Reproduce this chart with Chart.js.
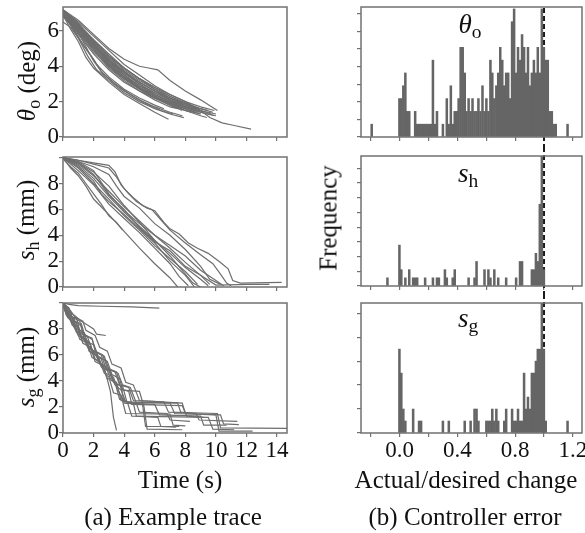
<!DOCTYPE html>
<html>
<head>
<meta charset="utf-8">
<script src="https://cdn.jsdelivr.net/npm/chart.js@4.4.1/dist/chart.umd.min.js"></script>
<style>
  html, body { margin: 0; padding: 0; background: #fff; overflow: hidden; }
  #fig { position: relative; width: 585px; height: 533px; overflow: hidden; font-family: "Liberation Serif", "Times New Roman", serif; color: #111; }
  #fig canvas { position: absolute; }
  .lbl { position: absolute; white-space: nowrap; font-size: 25px; line-height: 1; transform: translate(-50%, -50%); z-index: 5; }
  .rot { transform: translate(-50%, -50%) rotate(-90deg); }
  .big { font-size: 27px; }
  .lbl i { font-style: italic; }
  .lbl sub { font-size: 0.72em; vertical-align: -0.28em; line-height: 0; }
</style>
</head>
<body>
<div id="fig">
  <canvas id="cvTheta" width="300" height="170" style="left:0px;top:-13px"></canvas>
  <canvas id="cvSh" width="300" height="170" style="left:0px;top:137px"></canvas>
  <canvas id="cvSg" width="300" height="184" style="left:0px;top:283px"></canvas>
  <canvas id="cvHTheta" width="265" height="170" style="left:330px;top:-13px"></canvas>
  <canvas id="cvHSh" width="265" height="170" style="left:330px;top:136px"></canvas>
  <canvas id="cvHSg" width="265" height="184" style="left:330px;top:283px"></canvas>

  <div class="lbl rot" style="left:26px;top:81px"><i>θ</i><sub>o</sub> (deg)</div>
  <div class="lbl rot" style="left:25px;top:220px"><i>s</i><sub>h</sub> (mm)</div>
  <div class="lbl rot" style="left:25px;top:367px"><i>s</i><sub>g</sub> (mm)</div>
  <div class="lbl rot" style="left:328px;top:218px">Frequency</div>
  <div class="lbl" style="left:180px;top:479px">Time (s)</div>
  <div class="lbl" style="left:173px;top:516px">(a) Example trace</div>
  <div class="lbl" style="left:466px;top:479px">Actual/desired change</div>
  <div class="lbl" style="left:465px;top:516px">(b) Controller error</div>
  <div class="lbl big" style="left:470px;top:24px"><i>θ</i><sub>o</sub></div>
  <div class="lbl big" style="left:468px;top:173px"><i>s</i><sub>h</sub></div>
  <div class="lbl big" style="left:468px;top:318px"><i>s</i><sub>g</sub></div>
</div>
<script>
// (a) example traces, [time s, value]
const thetaTraces = [
  [[0,7.2],[1,6.4],[2,5.5],[3,4.6],[4,3.8],[5,3.2],[6,2.7],[7,2.3],[8,1.9],[9,1.6],[9.8,1.4]],
  [[0,7.1],[1,6.2],[2,5.3],[3,4.4],[4,3.6],[5,3.0],[6,2.5],[7,2.1],[8,1.8],[9.2,1.4]],
  [[0,7.0],[1,6.1],[2,5.1],[3,4.2],[4,3.5],[5,2.9],[6,2.4],[7,2.0],[8,1.7],[8.9,1.4]],
  [[0,7.2],[0.6,6.6],[1.2,6.0],[2,5.0],[2.8,4.3],[3.6,3.6],[4.5,3.0],[5.5,2.5],[6.5,2.1],[7.5,1.8],[8.6,1.5]],
  [[0,7.1],[1,6.0],[1.8,5.2],[2.6,4.4],[3.4,3.7],[4.2,3.2],[5,2.8],[6,2.3],[7,1.9],[8,1.6],[9,1.3]],
  [[0,7.2],[0.8,6.5],[1.6,5.7],[2.4,4.9],[3.2,4.2],[4,3.7],[5,3.1],[6,2.6],[7,2.2],[8,1.9],[9,1.6],[9.5,1.5]],
  [[0,7.0],[1,5.9],[2,4.8],[3,4.0],[4,3.3],[5,2.7],[6,2.2],[7,1.8],[8,1.5],[8.4,1.4]],
  [[0,7.1],[1,6.3],[2,5.3],[3,4.3],[4,3.5],[5,2.8],[6,2.3],[7,1.9],[8,1.5],[9,1.2],[9.4,1.1]],
  [[0,7.2],[1,6.2],[2,5.0],[3,4.1],[4,3.4],[5,2.8],[6,2.4],[7,2.0],[7.8,1.8]],
  [[0,6.9],[1,6.0],[2,5.1],[3,4.3],[4,3.6],[5,3.1],[6,2.6],[7,2.2],[8,1.8],[9,1.5],[9.7,1.3]],
  [[0,7.2],[0.5,6.8],[1,6.4],[2,5.4],[3,4.5],[4,3.9],[5,3.3],[6,2.8],[7,2.3],[8,1.9],[9,1.5]],
  [[0,7.0],[1,5.8],[2,4.7],[3,3.8],[4,3.1],[5,2.6],[6,2.2],[7,1.9],[8,1.6],[8.6,1.4]],
  [[0,7.1],[1,6.1],[2,5.2],[3,4.3],[4,3.5],[5,2.9],[6,2.5],[7,2.1],[8,1.7],[9,1.4],[10,1.2]],
  [[0,7.2],[1,6.3],[2,5.5],[3,4.7],[4,3.9],[5,3.3],[6,2.7],[7,2.2],[8,1.8],[8.8,1.6]],
  [[0,7.0],[1,6.0],[2,4.9],[3,3.9],[4,3.2],[5,2.6],[6,2.1],[7,1.7],[7.5,1.6]],
  [[0,7.2],[1,6.2],[2,5.2],[3,4.4],[4,3.7],[5,3.1],[6,2.6],[7,2.1],[8,1.7],[9,1.4],[9.9,1.2]],
  [[0,7.1],[1,6.0],[2,5.0],[3,4.1],[4,3.3],[5,2.7],[6,2.2],[7,1.8],[8,1.5],[9,1.3]],
  [[0,7.2],[1,6.4],[2,5.4],[3,4.5],[4,3.7],[5,3.0],[6,2.4],[7,2.0],[8,1.7],[9,1.5],[10,1.3]],
  [[0,6.8],[1,5.9],[2,5.0],[3,4.0],[4,3.3],[5,2.8],[6,2.3],[7,1.9],[8,1.6],[8.7,1.4]],
  [[0,7.1],[1,6.2],[2,5.2],[3,4.2],[4,3.4],[5,2.8],[6,2.3],[7,1.8],[7.8,1.5]],
  [[0,6.9],[0.5,6.1],[1,5.4],[1.5,4.5],[2,3.9],[3,3.1],[4,2.4],[5,1.9],[6,1.4],[6.9,1.0]],
  [[0,7.0],[1,5.6],[1.6,4.6],[2.2,3.8],[3,3.2],[4,2.5],[5,2.0],[6,1.6],[7,1.3],[7.9,1.1]],
  [[0,6.5],[0.5,6.2],[1,5.6],[1.5,5.0],[2,4.4],[2.5,3.7],[3,3.3],[4,2.6],[5,2.1],[6,1.7],[7,1.4],[7.8,1.2]],
  [[0,7.1],[1,5.9],[1.5,5.1],[2,4.3],[2.6,3.6],[3.4,3.0],[4.4,2.4],[5.4,1.9],[6.4,1.5],[7.2,1.3]],
  [[0,7.0],[0.7,6.1],[1.4,5.1],[2.2,4.1],[3,3.4],[4,2.7],[5,2.2],[6,1.8],[6.6,1.6]],
  [[0,7.2],[1,6.6],[2,5.8],[3,5.0],[4,4.4],[5,4.0],[5.6,3.9],[6.2,3.8],[7,3.2],[8,2.6],[9,2.1],[10.1,1.5]],
  [[0,7.1],[1,6.3],[2,5.4],[3,4.6],[4,3.9],[5,3.3],[6,2.8],[7,2.4],[8,2.0],[9,1.5],[9.6,1.1],[10.4,0.8],[11.2,0.65],[12.3,0.45]],
  [[0,7.2],[1,6.5],[2,5.7],[3,4.9],[4,4.1],[5,3.5],[6,2.9],[7,2.4],[8,2.0],[9,1.7],[9.9,1.5]]
];

const shTraces = [
  [[0,10],[1,9.8],[2,9.6],[3,9.4],[3.4,8.9],[3.8,7.9],[4.3,7.2],[4.8,6.6],[5.5,6.1],[6,5.9],[6.6,5.0],[7,4.5],[7.6,4.1],[8.2,3.4],[8.8,3.0],[9.5,2.6],[10.3,1.9],[10.8,1.4],[11.1,0.5],[11.6,0.3],[14.3,0.35]],
  [[0,10],[1,9.8],[2,9.5],[3,9.2],[3.5,8.5],[4,7.6],[4.6,6.9],[5.2,6.3],[5.8,6.0],[6.4,5.2],[7,4.4],[8,3.4],[9,2.5],[9.8,1.8],[10.3,1.0],[10.7,0.3],[11,0.1]],
  [[0,10],[1,9.7],[2,9.3],[3,8.7],[3.5,7.8],[4,7.0],[5,6.1],[6,4.9],[7,4.0],[8,2.9],[9,1.6],[9.6,0.6],[10.3,0.2]],
  [[0,10],[1,9.4],[2,8.4],[3,7.0],[4,5.8],[5,4.7],[6,3.6],[7,2.6],[8,1.5],[9,0.6],[9.5,0.1]],
  [[0,10],[1,9.2],[2,8.0],[3,6.8],[4,5.5],[5,4.4],[6,3.2],[7,2.2],[8,1.2],[8.8,0.2]],
  [[0,10],[1,9.5],[2,8.6],[3,7.4],[4,6.2],[5,5.1],[6,4.0],[7,3.0],[8,1.9],[9,0.9],[9.6,0.2]],
  [[0,10],[1,9.0],[2,7.9],[3,6.4],[4,5.3],[5,4.2],[6,3.0],[7,1.8],[7.6,0.8],[8.2,0.1]],
  [[0,10],[0.5,9.2],[1,8.6],[1.5,7.8],[2,6.8],[3,5.6],[4,4.3],[5,3.0],[6,1.8],[7,0.7],[7.5,0]],
  [[0,9.9],[0.5,9.3],[1,8.8],[1.5,8.0],[2,7.2],[2.5,6.4],[3,5.5],[3.5,5.0],[3.9,4.4]],
  [[0,10],[1,9.6],[2,8.9],[3,7.8],[4,6.3],[5,5.0],[6,3.6],[7,2.4],[8,1.0],[8.5,0.3],[9,0]],
  [[0,10],[1,9.7],[2,9.0],[3,7.2],[4,5.9],[5,4.9],[6,4.0],[7,3.2],[8,2.4],[9,1.3],[10,0.5],[10.5,0.1]],
  [[0,10],[1,9.3],[2,8.2],[2.5,7.2],[3,6.6],[4,5.6],[5,4.5],[6,3.4],[7,2.0],[8,0.9],[8.6,0]],
  [[0,10],[1,9.6],[2,8.7],[3,7.1],[4,6.0],[5,4.6],[6,3.5],[7,2.8],[8,1.6],[9,0.9],[10,0.15],[12.2,0.2],[13.5,0.2]]
];

const sgTraces = [
  [[0,10],[0.4,9.9],[1,9.8],[2.5,9.75],[4.5,9.7],[6.3,9.6]],
  [[0,10],[0.2,9.5],[0.5,8.9],[0.9,8.4],[1.2,7.3],[1.8,6.8],[2.1,5.7],[2.6,5.2],[2.9,4.1],[3.1,3.2],[3.3,1.2],[3.5,0.2]],
  [[0,10],[0.3,9.4],[0.8,9.0],[1.2,8.6],[1.6,8.3],[2.0,8.0],[2.2,7.6],[2.8,7.5]],
  [[0,10],[0.3,9.0],[0.6,8.5],[1.0,8.2],[1.2,7.4],[1.7,7.0],[2.0,6.1],[2.5,5.7],[2.8,4.6],[3.3,4.3],[3.6,3.3],[4.0,2.4],[4.5,2.35],[7.0,2.3],[7.3,1.5],[10.0,1.4],[10.2,0.15],[12.4,0.15]],
  [[0,9.9],[0.2,9.2],[0.6,8.7],[1.0,8.0],[1.4,7.7],[1.7,6.6],[2.2,6.1],[2.5,5.2],[3.0,4.9],[3.4,3.7],[3.8,3.3],[4.1,2.4],[7.5,2.3],[7.7,1.6],[8.7,1.5],[8.9,1.0],[11.4,0.9]],
  [[0,10],[0.4,8.8],[0.8,8.2],[1.1,7.2],[1.6,6.9],[1.9,5.8],[2.4,5.5],[2.7,4.6],[3.0,4.3],[3.3,3.1],[3.8,2.9],[4.1,1.5],[7.0,1.45],[7.2,0.6],[8.0,0.55]],
  [[0,10],[0.3,9.3],[0.8,8.6],[1.2,8.2],[1.4,7.1],[2.0,6.8],[2.3,5.9],[2.9,5.5],[3.2,4.5],[3.7,4.2],[3.9,3.3],[5.0,3.2],[5.3,2.0],[5.5,0.3],[7.8,0.25]],
  [[0,10],[0.5,9.0],[0.9,8.8],[1.1,7.8],[1.6,7.4],[1.9,6.4],[2.5,6.0],[2.8,5.0],[3.4,4.7],[3.7,3.7],[4.3,3.5],[4.6,2.5],[6.6,2.4],[6.9,1.6],[10.1,1.5],[10.3,0.4],[14.7,0.35]],
  [[0,10],[0.2,9.6],[0.6,8.3],[1.0,7.9],[1.3,6.9],[1.8,6.6],[2.1,5.5],[2.6,5.2],[2.9,4.2],[3.4,3.9],[3.7,2.6],[4.2,2.4],[4.5,1.3],[9.5,1.2],[9.8,0.3],[11.2,0.25]],
  [[0,10],[0.4,9.4],[0.7,8.6],[1.2,8.4],[1.4,7.6],[1.9,7.2],[2.2,6.2],[2.7,5.9],[3.0,4.9],[3.6,4.6],[3.9,3.7],[4.4,3.5],[4.7,2.6],[5.0,1.6],[6.8,1.5],[7.0,1.0],[8.3,0.9]],
  [[0,9.8],[0.3,8.9],[0.7,8.5],[1.0,7.5],[1.5,7.2],[1.8,6.2],[2.3,5.9],[2.6,5.0],[3.1,4.7],[3.4,3.8],[3.9,3.6],[4.2,2.3],[6.0,2.2],[6.3,1.4],[9.0,1.3],[9.2,0.6],[10.7,0.6]],
  [[0,10],[0.2,9.1],[0.5,8.7],[0.9,7.7],[1.3,7.4],[1.6,6.6],[2.0,6.3],[2.4,5.4],[2.8,5.1],[3.1,4.2],[3.5,3.9],[3.8,2.5],[4.6,2.3],[4.8,1.3],[6.2,1.2],[6.4,0.5],[7.4,0.45]],
  [[0,10],[0.5,9.4],[0.8,8.9],[1.3,8.6],[1.5,7.9],[2.1,7.5],[2.4,6.6],[2.9,6.3],[3.2,5.3],[3.8,5.0],[4.1,3.9],[4.6,3.7],[5.0,2.5],[7.8,2.3],[8.0,1.5],[10.3,1.4],[10.5,0.7],[11.5,0.65]],
  [[0,10],[0.3,9.2],[0.7,8.8],[0.9,7.8],[1.4,7.5],[1.7,6.3],[2.2,6.0],[2.5,5.1],[3.0,4.8],[3.3,3.9],[3.8,3.6],[4.0,2.3],[5.2,2.2],[5.4,0.5],[7.6,0.5]],
  [[0,10],[0.4,9.6],[0.6,8.9],[1.1,8.6],[1.3,7.6],[1.9,7.3],[2.1,6.3],[2.6,6.0],[2.9,5.0],[3.5,4.7],[3.8,3.4],[4.3,3.2],[4.5,2.2],[7.8,2.1],[8.1,1.3],[9.2,1.2]]
];

// (b) histograms, [bin centre, count]
const thetaHist = [
  [-0.193,1],[-0.001,3],[0.012,3],[0.026,4],[0.040,5],[0.053,2],[0.067,2],[0.108,2],[0.122,1],
  [0.135,1],[0.149,1],[0.163,1],[0.177,1],[0.190,1],[0.204,1],[0.218,1],[0.231,6],[0.245,1],
  [0.259,2],[0.300,1],[0.327,3],[0.341,1],[0.355,4],[0.368,1],[0.382,2],[0.396,2],[0.409,3],
  [0.423,7],[0.437,7],[0.451,5],[0.464,2],[0.478,3],[0.492,2],[0.505,3],[0.519,2],[0.533,2],
  [0.546,3],[0.560,2],[0.574,4],[0.588,2],[0.601,3],[0.615,2],[0.629,6],[0.642,5],[0.656,3],
  [0.670,4],[0.683,5],[0.697,7],[0.711,6],[0.725,4],[0.738,5],[0.752,5],[0.766,3],[0.779,9],
  [0.793,10],[0.807,5],[0.820,7],[0.834,6],[0.848,8],[0.862,7],[0.875,5],[0.889,7],[0.903,4],
  [0.916,5],[0.930,6],[0.944,5],[0.957,7],[0.971,5],[0.985,10],[0.999,7],[1.012,6],[1.026,6],
  [1.040,2],[1.054,2],[1.067,1],[1.081,1],[1.163,1]
];
const shHist = [
  [-0.084,1],[-0.001,5],[0.012,2],[0.040,1],[0.067,2],[0.094,1],[0.108,1],[0.122,1],[0.177,1],
  [0.231,1],[0.259,1],[0.272,1],[0.314,2],[0.327,1],[0.368,1],[0.382,2],[0.478,1],[0.519,1],
  [0.533,3],[0.588,2],[0.615,2],[0.629,1],[0.656,2],[0.683,1],[0.738,1],[0.807,1],[0.834,3],
  [0.848,3],[0.916,2],[0.930,2],[0.944,4],[0.957,3],[0.971,10],[0.985,16],[0.999,2]
];
const sgHist = [
  [-0.001,7],[0.012,5],[0.026,2],[0.040,1],[0.094,2],[0.135,1],[0.149,1],[0.300,1],[0.341,1],
  [0.451,1],[0.492,1],[0.519,2],[0.533,2],[0.546,1],[0.601,1],[0.615,1],[0.629,1],[0.642,2],
  [0.656,1],[0.670,2],[0.683,1],[0.725,1],[0.738,2],[0.779,2],[0.793,1],[0.807,1],[0.820,2],
  [0.834,1],[0.848,1],[0.862,5],[0.875,2],[0.889,3],[0.903,2],[0.916,5],[0.930,5],[0.944,6],
  [0.957,7],[0.971,7],[0.985,11],[0.999,7],[1.012,1],[1.163,1]
];

const ratioTickLabels = ['0.0', '0.4', '0.8', '1.2'];
const valueTickLabels = ['0', '2', '4', '6', '8'];
const TARGET_RATIO = 1.0;

const FONT = "'Liberation Serif', 'Times New Roman', serif";
const LINE_COLOR = '#6e6e6e';
const FRAME_COLOR = '#717171';
const BAR_COLOR = '#656565';
const TEXT_COLOR = '#111';

Chart.defaults.font.family = FONT;

const framePlugin = {
  id: 'frame',
  afterDatasetsDraw(chart) {
    const { ctx, chartArea: a } = chart;
    ctx.save();
    ctx.strokeStyle = FRAME_COLOR;
    ctx.lineWidth = 1.5;
    ctx.strokeRect(a.left, a.top, a.right - a.left, a.bottom - a.top);
    ctx.restore();
  }
};

const dashPlugin = {
  id: 'dashRef',
  beforeDatasetsDraw(chart, args, opts) {
    const { ctx, chartArea: a } = chart;
    const x = chart.scales.x.getPixelForValue(opts.value);
    ctx.save();
    ctx.strokeStyle = '#1a1a1a';
    ctx.lineWidth = 2;
    ctx.setLineDash([5, 3]);
    ctx.beginPath();
    ctx.moveTo(x, a.top + opts.above);
    ctx.lineTo(x, a.bottom + opts.below);
    ctx.stroke();
    ctx.restore();
  }
};

function tickGrid() {
  return { offset: false, drawOnChartArea: false, drawTicks: true, tickLength: 4, color: FRAME_COLOR, lineWidth: 1.2 };
}

function traceChart(id, traces, yMax, showX) {
  const xh = showX ? 34 : 20;
  return new Chart(document.getElementById(id), {
    type: 'scatter',
    data: {
      datasets: traces.map(t => ({
        data: t.map(p => ({ x: p[0], y: p[1] })),
        showLine: true,
        borderColor: LINE_COLOR,
        borderWidth: 1.2,
        pointRadius: 0,
        tension: 0,
        fill: false
      }))
    },
    options: {
      responsive: false,
      animation: false,
      events: [],
      layout: { padding: { top: 20, right: 13, left: 30, bottom: 0 } },
      plugins: { legend: { display: false }, tooltip: { enabled: false } },
      scales: {
        x: {
          type: 'linear', min: 0, max: 14.65, offset: false,
          ticks: { stepSize: 2, includeBounds: false, display: showX, autoSkip: false, maxRotation: 0, padding: 0,
                   color: TEXT_COLOR, font: { family: FONT, size: 23 } },
          grid: tickGrid(),
          border: { display: false },
          afterFit(s) { s.height = xh; }
        },
        y: {
          min: 0, max: yMax,
          ticks: { stepSize: 2, includeBounds: false, autoSkip: false, padding: 0,
                   color: TEXT_COLOR, font: { family: FONT, size: 23 },
                   callback: v => valueTickLabels.includes(String(v)) ? String(v) : '' },
          grid: tickGrid(),
          border: { display: false },
          afterFit(s) { s.width = 33; }
        }
      }
    },
    plugins: [framePlugin]
  });
}

function histChart(id, hist, yMax, yStep, showX, above, below) {
  const xh = showX ? 34 : 20;
  return new Chart(document.getElementById(id), {
    type: 'bar',
    data: {
      datasets: [{
        data: hist.map(b => ({ x: b[0], y: b[1] })),
        backgroundColor: BAR_COLOR,
        borderWidth: 0,
        barPercentage: 1,
        categoryPercentage: 1
      }]
    },
    options: {
      responsive: false,
      animation: false,
      events: [],
      layout: { padding: { top: 20, right: 13, left: 10, bottom: 0 } },
      plugins: {
        legend: { display: false }, tooltip: { enabled: false },
        dashRef: { value: TARGET_RATIO, above, below }
      },
      scales: {
        x: {
          type: 'linear', min: -0.267, max: 1.263, offset: false,
          ticks: {
            stepSize: 0.2, includeBounds: false, display: showX, autoSkip: false, maxRotation: 0, padding: 0,
            color: TEXT_COLOR, font: { family: FONT, size: 23 },
            callback: v => {
              const s = (Math.round(v * 10) / 10).toFixed(1);
              return ratioTickLabels.includes(s) ? s : '';
            }
          },
          grid: tickGrid(),
          border: { display: false },
          afterFit(s) { s.height = xh; }
        },
        y: {
          min: 0, max: yMax,
          ticks: { stepSize: yStep, includeBounds: false, autoSkip: false, display: false },
          grid: tickGrid(),
          border: { display: false },
          afterFit(s) { s.width = 21; }
        }
      }
    },
    plugins: [dashPlugin, framePlugin]
  });
}

function buildAll() {
  traceChart('cvTheta', thetaTraces, 7.35, false);
  traceChart('cvSh', shTraces, 10.05, false);
  traceChart('cvSg', sgTraces, 10, true);

  histChart('cvHTheta', thetaHist, 10.15, 1.375, false, 1, 10);
  histChart('cvHSh', shHist, 15.9, 1.8, false, -9, 8);
  histChart('cvHSg', sgHist, 10.85, 2, true, -9, 0);
}

// canvas text needs the serif face loaded first
if (document.fonts && document.fonts.load) {
  document.fonts.load('23px "Liberation Serif"').then(buildAll, buildAll);
} else {
  buildAll();
}
</script>
</body>
</html>
